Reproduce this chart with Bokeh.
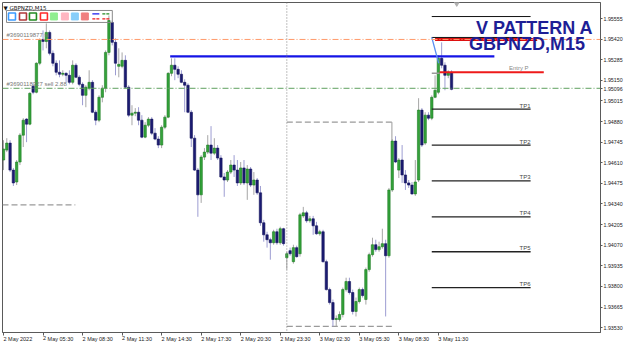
from bokeh.plotting import figure
from bokeh.models import ColumnDataSource, FixedTicker, Label, Span
from bokeh.embed import file_html
from bokeh.resources import INLINE

# ---------------- data (GBPNZD M15, 2 May 02:30 -> 3 May 12:30) ----------------
open_ = [1.94628, 1.94693, 1.94739, 1.94562, 1.94484, 1.94615, 1.94791, 1.94896, 1.94863, 1.95111,
         1.95072, 1.95262, 1.95418, 1.95405, 1.95464, 1.95327, 1.95262, 1.95203, 1.95190, 1.95196,
         1.95183, 1.95137, 1.95249, 1.95170, 1.95124, 1.95052, 1.95098, 1.95137, 1.94941, 1.94889,
         1.95039, 1.95098, 1.95333, 1.95529, 1.95399, 1.95242, 1.95242, 1.95281, 1.95105, 1.94922,
         1.94935, 1.94941, 1.94889, 1.94778, 1.94856, 1.94896, 1.94804, 1.94765, 1.94726, 1.94843,
         1.94909, 1.95196, 1.95249, 1.95222, 1.95190, 1.95137, 1.95118, 1.94941, 1.94771, 1.94562,
         1.94400, 1.94647, 1.94680, 1.94726, 1.94673, 1.94706, 1.94641, 1.94517, 1.94497, 1.94549,
         1.94595, 1.94562, 1.94478, 1.94576, 1.94478, 1.94569, 1.94464, 1.94497, 1.94413, 1.94217,
         1.94138, 1.94106, 1.94086, 1.94158, 1.94086, 1.94178, 1.93988, 1.94034, 1.93962, 1.94054,
         1.94014, 1.94262, 1.94282, 1.94230, 1.94243, 1.94197, 1.94145, 1.94158, 1.93962, 1.93779,
         1.93694, 1.93583, 1.93583, 1.93616, 1.93779, 1.93832, 1.93760, 1.93636, 1.93701, 1.93779,
         1.93714, 1.93910, 1.94008, 1.94073, 1.94041, 1.94060, 1.94080, 1.94001, 1.94432, 1.94752,
         1.94562, 1.94628, 1.94530, 1.94478, 1.94464, 1.94406, 1.94497, 1.94955, 1.94739, 1.94922,
         1.94902, 1.95039, 1.95072, 1.95294, 1.95249, 1.95183, 1.95203]
high = [1.94758, 1.94771, 1.94758, 1.94576, 1.94628, 1.94804, 1.94902, 1.94902, 1.95072, 1.95131,
        1.95268, 1.95425, 1.95477, 1.95523, 1.95477, 1.95346, 1.95281, 1.95281, 1.95216, 1.95203,
        1.95216, 1.95281, 1.95262, 1.95183, 1.95137, 1.95118, 1.95216, 1.95151, 1.94955, 1.95052,
        1.95118, 1.95346, 1.95575, 1.95542, 1.95425, 1.95360, 1.95333, 1.95314, 1.95118, 1.94987,
        1.94968, 1.94974, 1.94922, 1.94876, 1.94909, 1.94909, 1.94837, 1.94784, 1.94856, 1.94922,
        1.95203, 1.95294, 1.95294, 1.95242, 1.95216, 1.95157, 1.95131, 1.94955, 1.94791, 1.94576,
        1.94660, 1.94706, 1.94791, 1.94850, 1.94771, 1.94726, 1.94660, 1.94543, 1.94562, 1.94628,
        1.94660, 1.94628, 1.94615, 1.94628, 1.94595, 1.94582, 1.94549, 1.94510, 1.94458, 1.94236,
        1.94158, 1.94119, 1.94171, 1.94178, 1.94191, 1.94184, 1.94027, 1.94054, 1.94073, 1.94067,
        1.94282, 1.94321, 1.94295, 1.94262, 1.94262, 1.94223, 1.94171, 1.94171, 1.93975, 1.93792,
        1.93714, 1.93610, 1.93636, 1.93792, 1.93857, 1.93857, 1.93779, 1.93727, 1.93792, 1.93792,
        1.93923, 1.94021, 1.94119, 1.94106, 1.94093, 1.94178, 1.94106, 1.94445, 1.94765, 1.94784,
        1.94641, 1.94726, 1.94562, 1.94497, 1.94484, 1.94628, 1.95033, 1.94968, 1.94941, 1.94941,
        1.95052, 1.95183, 1.95314, 1.95399, 1.95268, 1.95216, 1.95216]
low = [1.94562, 1.94680, 1.94549, 1.94458, 1.94464, 1.94595, 1.94713, 1.94745, 1.94856, 1.95059,
       1.95065, 1.95249, 1.95346, 1.95360, 1.95314, 1.95242, 1.95183, 1.95170, 1.95177, 1.95137,
       1.95124, 1.95124, 1.95164, 1.95111, 1.94987, 1.94974, 1.95085, 1.94935, 1.94856, 1.94876,
       1.95006, 1.95072, 1.95314, 1.95379, 1.95183, 1.95170, 1.95229, 1.95098, 1.94909, 1.94856,
       1.94915, 1.94856, 1.94771, 1.94771, 1.94843, 1.94791, 1.94758, 1.94706, 1.94706, 1.94830,
       1.94902, 1.95177, 1.95151, 1.95164, 1.95131, 1.94941, 1.94935, 1.94713, 1.94556, 1.94256,
       1.94347, 1.94628, 1.94667, 1.94628, 1.94660, 1.94628, 1.94510, 1.94387, 1.94484, 1.94536,
       1.94517, 1.94458, 1.94464, 1.94464, 1.94367, 1.94451, 1.94400, 1.94400, 1.94197, 1.94093,
       1.94054, 1.93975, 1.94073, 1.94073, 1.94073, 1.94067, 1.93910, 1.94001, 1.93949, 1.93988,
       1.93995, 1.94249, 1.94217, 1.94217, 1.94138, 1.94138, 1.94132, 1.93955, 1.93773, 1.93681,
       1.93538, 1.93538, 1.93570, 1.93597, 1.93766, 1.93747, 1.93616, 1.93603, 1.93688, 1.93727,
       1.93681, 1.93896, 1.93995, 1.94027, 1.94027, 1.94047, 1.93603, 1.93988, 1.94419, 1.94608,
       1.94510, 1.94478, 1.94432, 1.94445, 1.94400, 1.94393, 1.94484, 1.94713, 1.94726, 1.94889,
       1.94889, 1.95033, 1.95059, 1.95229, 1.95085, 1.95164, 1.95085]
close = [1.94700, 1.94739, 1.94562, 1.94478, 1.94615, 1.94791, 1.94889, 1.94863, 1.95065, 1.95072,
         1.95262, 1.95412, 1.95405, 1.95464, 1.95327, 1.95262, 1.95203, 1.95190, 1.95196, 1.95183,
         1.95137, 1.95249, 1.95170, 1.95124, 1.95052, 1.95105, 1.95137, 1.94941, 1.94889, 1.95039,
         1.95098, 1.95333, 1.95542, 1.95399, 1.95262, 1.95255, 1.95281, 1.95105, 1.94922, 1.94935,
         1.94941, 1.94889, 1.94778, 1.94856, 1.94896, 1.94804, 1.94765, 1.94726, 1.94843, 1.94909,
         1.95196, 1.95249, 1.95222, 1.95190, 1.95137, 1.95118, 1.94941, 1.94771, 1.94562, 1.94400,
         1.94647, 1.94680, 1.94726, 1.94673, 1.94706, 1.94641, 1.94517, 1.94497, 1.94549, 1.94595,
         1.94562, 1.94478, 1.94576, 1.94478, 1.94569, 1.94464, 1.94497, 1.94413, 1.94217, 1.94138,
         1.94106, 1.94086, 1.94158, 1.94086, 1.94178, 1.94080, 1.94014, 1.94014, 1.94054, 1.93995,
         1.94269, 1.94282, 1.94230, 1.94243, 1.94197, 1.94145, 1.94158, 1.93962, 1.93779, 1.93694,
         1.93583, 1.93590, 1.93616, 1.93779, 1.93832, 1.93760, 1.93636, 1.93701, 1.93779, 1.93740,
         1.93910, 1.94008, 1.94073, 1.94041, 1.94060, 1.94080, 1.94001, 1.94432, 1.94752, 1.94615,
         1.94628, 1.94530, 1.94478, 1.94464, 1.94406, 1.94484, 1.94955, 1.94726, 1.94922, 1.94902,
         1.95039, 1.95085, 1.95294, 1.95249, 1.95183, 1.95203, 1.95091]

time_ticks = [0, 12, 24, 36, 48, 60, 72, 84, 96, 108, 120, 132]
time_labels = ["2 May 2022", "2 May 05:30", "2 May 08:30", "2 May 11:30", "2 May 14:30",
               "2 May 17:30", "2 May 20:30", "2 May 23:30", "3 May 02:30", "3 May 05:30",
               "3 May 08:30", "3 May 11:30"]
price_ticks = [1.93530, 1.93665, 1.93800, 1.93935, 1.94070, 1.94205, 1.94340, 1.94475,
               1.94610, 1.94745, 1.94880, 1.95015, 1.95096, 1.95150, 1.95285, 1.95420, 1.95555]
price_labels = ["1.93530", "1.93665", "1.93800", "1.93935", "1.94070", "1.94205", "1.94340",
                "1.94475", "1.94610", "1.94745", "1.94880", "1.95015", "1.95096", "1.95150",
                "1.95285", "1.95420", "1.95555"]

bid_price = 1.95096
order_price = 1.95098
sl_price = 1.95418
blue_level = 1.95307
pattern_top = 1.95568
pattern_sl = 1.95431
pattern_red = 1.95418
entry_price = 1.95203
tp_levels = [1.94961, 1.94726, 1.94491, 1.94256, 1.94027, 1.93792]
tp_names = ["TP1", "TP2", "TP3", "TP4", "TP5", "TP6"]
box_top = 1.94876
box_bottom = 1.93538
box_right_low = 1.94752
left_dash_level = 1.94334
diag_prices = [1.95431, 1.95262]

# ---------------- geometry ----------------
FW, FH = 599, 331
X_START = -0.3
X_END = X_START + FW / 3.3
Y_LOW, Y_HIGH = 1.93498, 1.95660


def px2x(px):
    return X_START + (px - 2) * (X_END - X_START) / FW


def px2y(py):
    return Y_HIGH - (py - 2) * (Y_HIGH - Y_LOW) / FH


p = figure(width=625, height=347, x_range=(X_START, X_END), y_range=(Y_LOW, Y_HIGH),
           output_backend="svg", toolbar_location=None, y_axis_location="right",
           min_border_left=2, min_border_right=24, min_border_top=2, min_border_bottom=14,
           background_fill_color="white", border_fill_color="white",
           outline_line_color="#5a5a5a")
p.grid.visible = False

ax = p.xaxis[0]
ax.ticker = FixedTicker(ticks=time_ticks)
ax.major_label_overrides = {t: l for t, l in zip(time_ticks, time_labels)}
ax.major_label_orientation = -1e-4
ax.major_label_text_font = "Liberation Sans"
ax.major_label_text_font_size = "5.5px"
ax.major_label_text_color = "#222222"
ax.major_label_standoff = 3
ax.major_tick_in = 0
ax.major_tick_out = 3
ax.minor_tick_line_color = None
ax.axis_line_color = "#5a5a5a"
ax.major_tick_line_color = "#5a5a5a"

ay = p.yaxis[0]
ay.ticker = FixedTicker(ticks=price_ticks)
ay.major_label_overrides = {t: l for t, l in zip(price_ticks, price_labels)}
ay.major_label_text_font = "Liberation Sans"
ay.major_label_text_font_size = "5.3px"
ay.major_label_text_color = "#222222"
ay.major_label_standoff = 1
ay.major_tick_in = 0
ay.major_tick_out = 2
ay.minor_tick_line_color = None
ay.axis_line_color = "#5a5a5a"
ay.major_tick_line_color = "#5a5a5a"

# ---------------- full-width lines ----------------
p.add_layout(Span(location=sl_price, dimension="width", line_color="#ff9a6a",
                  line_dash="6 2 1 2", line_width=1))
p.add_layout(Span(location=order_price, dimension="width", line_color="#5fa05f",
                  line_dash="6 2 1 2", line_width=1))
p.add_layout(Span(location=86, dimension="height", line_color="#808080",
                  line_dash="1 2", line_width=1))

# gray dashed box
p.segment(x0=[86, 86, X_START], y0=[box_top, box_bottom, left_dash_level],
          x1=[118, 118, 21.8], y1=[box_top, box_bottom, left_dash_level],
          line_color="#9a9a9a", line_dash="6 3", line_width=1.3)
p.segment(x0=[117.9], y0=[box_top], x1=[117.9], y1=[box_right_low],
          line_color="#9a9a9a", line_width=1)

# ---------------- candles ----------------
n = len(close)
idx = list(range(n))
bull = [c >= o for o, c in zip(open_, close)]
src = ColumnDataSource(dict(
    idx=idx, high=high, low=low,
    top=[max(o, c) for o, c in zip(open_, close)],
    bottom=[min(o, c) for o, c in zip(open_, close)],
    wick=["#a6a6a6" if b else "#9d9dd2" for b in bull],
    body=["#33a33a" if b else "#1b1b72" for b in bull],
    edge=["#1f7a24" if b else "#14145a" for b in bull],
))
p.segment(x0="idx", y0="high", x1="idx", y1="low", line_color="wick", line_width=1, source=src)
p.vbar(x="idx", width=0.72, top="top", bottom="bottom", fill_color="body",
       line_color="edge", line_width=0.6, source=src)

# ---------------- pattern objects ----------------
p.segment(x0=[50.6], y0=[blue_level], x1=[149], y1=[blue_level], line_color="#1414e6", line_width=2.2)
p.segment(x0=[130, 130], y0=[pattern_top, pattern_sl], x1=[160, 160], y1=[pattern_top, pattern_sl],
          line_color="#111111", line_width=1)
p.segment(x0=[131], y0=[pattern_red], x1=[162], y1=[pattern_red], line_color="#dd1010", line_width=3)
p.segment(x0=[130], y0=[entry_price - 0.00006], x1=[132.4], y1=[entry_price - 0.00006],
          line_color="#999999", line_width=1.5)
p.segment(x0=[132.4], y0=[entry_price], x1=[164], y1=[entry_price], line_color="#ee1a1a", line_width=2)
p.segment(x0=[130] * 6, y0=tp_levels, x1=[160] * 6, y1=tp_levels, line_color="#222222", line_width=1.3)
p.line(x=[130, 132.1], y=diag_prices, line_color="#5a8ef0", line_width=1.3)

for lvl, name in zip(tp_levels, tp_names):
    p.add_layout(Label(x=px2x(531), y=lvl, text=name, text_align="right", text_baseline="bottom",
                       y_offset=0.5, text_font="Liberation Sans", text_font_size="6px",
                       text_color="#444444"))
p.add_layout(Label(x=px2x(529), y=entry_price, text="Entry P", text_align="right",
                   text_baseline="bottom", y_offset=1, text_font="Liberation Sans",
                   text_font_size="6px", text_color="#888888"))

# title
p.add_layout(Label(x=px2x(535), y=px2y(27.5), text="V PATTERN A", text_align="center",
                   text_baseline="alphabetic", text_font="Liberation Sans", text_font_style="bold",
                   text_font_size="18px", text_color="#1e1e96"))
p.add_layout(Label(x=px2x(527.5), y=px2y(44), text="GBPNZD,M15", text_align="center",
                   text_baseline="alphabetic", text_font="Liberation Sans", text_font_style="bold",
                   text_font_size="18px", text_color="#1e1e96"))

# order labels
p.add_layout(Label(x=px2x(6), y=sl_price, text="#3690119877 sl", text_baseline="bottom", y_offset=1,
                   text_font="Liberation Sans", text_font_size="6px", text_color="#777777"))
p.add_layout(Label(x=px2x(6), y=order_price, text="#3690118327 sell 2.88", text_baseline="bottom",
                   y_offset=1, text_font="Liberation Sans", text_font_size="6px", text_color="#777777"))

# symbol caption
p.add_layout(Label(x=px2x(3), y=px2y(8), text="\u25bc GBPNZD,M15", text_baseline="alphabetic",
                   text_font="DejaVu Sans", text_font_size="5.5px", text_color="#111111"))

# ---------------- tool panel ----------------
p.quad(left=[px2x(6)], right=[px2x(112)], top=[px2y(10)], bottom=[px2y(22)],
       fill_color=None, line_color="#8a8a8a", line_width=1)
sq_left = [8, 19, 29, 40, 50, 61, 71, 81, 92, 102]
outline_cols = ["#3a9bff", "#b03a3a", "#238b23", "#ff2a2a"]
fill_cols = ["#90ee90", "#ffb6c1", "#87cefa", "#f08080"]
for k in range(4):
    p.quad(left=[px2x(sq_left[k])], right=[px2x(sq_left[k] + 7)], top=[px2y(12.5)], bottom=[px2y(19.5)],
           fill_color="white", line_color=outline_cols[k], line_width=1.6)
for k in range(4):
    p.quad(left=[px2x(sq_left[4 + k])], right=[px2x(sq_left[4 + k] + 7)], top=[px2y(12.5)],
           bottom=[px2y(19.5)], fill_color=fill_cols[k], line_color=fill_cols[k], line_width=1)
for k, (c1, c2, d1) in enumerate([("#1a1aee", "#ee1a1a", "solid"), ("#238b23", "#ee1a1a", "3 1")]):
    l0 = sq_left[8 + k]
    p.segment(x0=[px2x(l0)], y0=[px2y(13.5)], x1=[px2x(l0 + 7)], y1=[px2y(13.5)],
              line_color=c1, line_width=1.3, line_dash=d1)
    p.segment(x0=[px2x(l0)], y0=[px2y(18.5)], x1=[px2x(l0 + 7)], y1=[px2y(18.5)],
              line_color=c2, line_width=1.3, line_dash="3 1")

# chart-shift marker at the top
p.scatter(x=[px2x(457)], y=[px2y(3)], marker="inverted_triangle", size=5,
          fill_color="#b0b0b0", line_color="#b0b0b0")

open("out.html", "w").write(file_html(p, INLINE))
